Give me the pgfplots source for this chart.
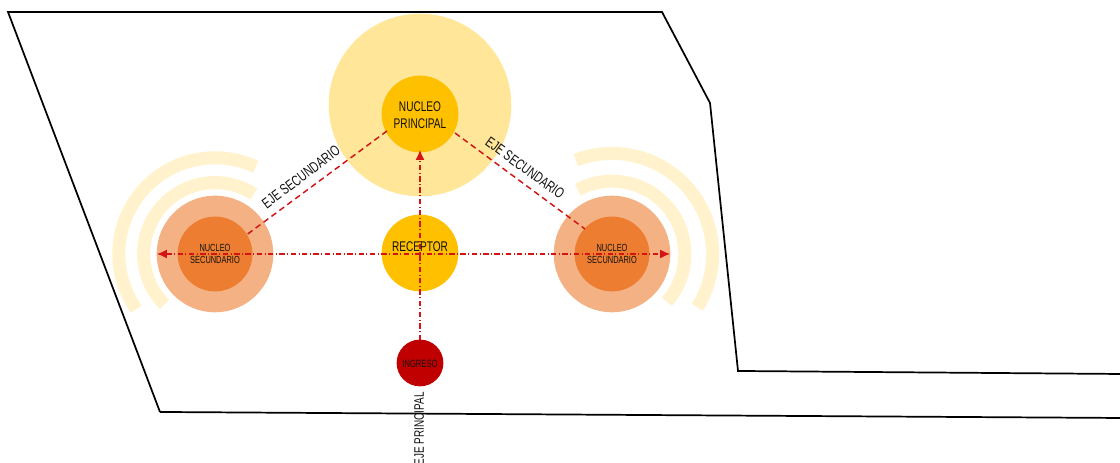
\documentclass[border=0pt]{standalone}
\usepackage{pgfplots}
\pgfplotsset{compat=1.18}
\usetikzlibrary{arrows.meta}
\usepackage{fontspec}
\setmainfont{Liberation Sans}
\newfontfamily\narrow[FakeStretch=0.72]{Liberation Sans}

\definecolor{halo}{HTML}{FFE699}
\definecolor{core}{HTML}{FFC000}
\definecolor{secout}{HTML}{F4B183}
\definecolor{secin}{HTML}{ED7D31}
\definecolor{ingreso}{HTML}{C00000}
\definecolor{cream}{HTML}{FFF2CC}
\definecolor{axred}{RGB}{210,20,20}
\definecolor{txt}{HTML}{111111}

% concentric arcs around the secondary nuclei (radii in pt, 1px = 0.405pt)
\pgfdeclareplotmark{ringsL}{%
  \pgfsetlinewidth{5.3pt}%
  \pgfpathmoveto{\pgfpointpolar{65}{39.1pt}}\pgfpatharc{65}{215}{39.1pt}%
  \pgfpathmoveto{\pgfpointpolar{57}{29.0pt}}\pgfpatharc{57}{225}{29.0pt}%
  \pgfusepathqstroke}
\pgfdeclareplotmark{ringsR}{%
  \pgfsetlinewidth{5.3pt}%
  \pgfpathmoveto{\pgfpointpolar{-32}{40.9pt}}\pgfpatharc{-32}{111}{40.9pt}%
  \pgfpathmoveto{\pgfpointpolar{-41}{29.6pt}}\pgfpatharc{-41}{118}{29.6pt}%
  \pgfusepathqstroke}

\begin{document}
\begin{tikzpicture}
\begin{axis}[
    set layers,
    scale only axis,
    width=16cm, height=6.614cm,
    xmin=0, xmax=1120, ymin=0, ymax=463,
    y dir=reverse,
    hide axis,
    clip=false
]
  % site outline
  \addplot[black, line width=0.7pt, on layer=axis background] coordinates {(160,412) (8,12) (662,12) (710,103) (738,371) (1120,374)};
  \addplot[black, line width=0.7pt, on layer=axis background] coordinates {(160,412) (1120,418)};

  % rings
  \addplot[only marks, mark=ringsL, cream, on layer=pre main] coordinates {(215,254)};
  \addplot[only marks, mark=ringsR, cream, on layer=pre main] coordinates {(612,254)};

  % circles (mark size = radius)
  \addplot[only marks, mark=*, mark size=36.9pt, halo] coordinates {(420,105)};
  \addplot[only marks, mark=*, mark size=15.4pt, core] coordinates {(420,114) (420,253)};
  \addplot[only marks, mark=*, mark size=23.5pt, secout] coordinates {(215,254) (612,254)};
  \addplot[only marks, mark=*, mark size=15.0pt, secin] coordinates {(215,254) (612,254)};
  \addplot[only marks, mark=*, mark size=9.3pt, ingreso] coordinates {(420,363)};

  % axes (dashed)
  \addplot[axred, line width=0.6pt, dash pattern=on 2.4pt off 1.6pt, on layer=axis foreground] coordinates {(387,131) (245,236)};
  \addplot[axred, line width=0.6pt, dash pattern=on 2.4pt off 1.6pt, on layer=axis foreground] coordinates {(455,133) (585,229)};
  \addplot[axred, line width=0.5pt, dash pattern=on 2.2pt off 1pt on 0.4pt off 1pt, on layer=axis foreground,
           {Latex[length=4pt,width=3.6pt]}-{Latex[length=4pt,width=3.6pt]}] coordinates {(157,254) (670,254)};
  \addplot[axred, line width=0.5pt, dash pattern=on 2.2pt off 1pt on 0.4pt off 1pt, on layer=axis foreground,
           -{Latex[length=4pt,width=3.6pt]}] coordinates {(420,340) (420,150)};

  % labels
  \begin{pgfonlayer}{axis foreground}
  \node[txt, align=center, font=\narrow\fontsize{5.7}{6.9}\selectfont] at (axis cs:420,115) {NUCLEO\\PRINCIPAL};
  \node[txt, font=\narrow\fontsize{5.7}{6.9}\selectfont] at (axis cs:420,247) {RECEPTOR};
  \node[txt, align=center, font=\narrow\fontsize{4.2}{4.9}\selectfont] at (axis cs:215,254) {NUCLEO\\SECUNDARIO};
  \node[txt, align=center, font=\narrow\fontsize{4.2}{4.9}\selectfont] at (axis cs:612,254) {NUCLEO\\SECUNDARIO};
  \node[txt, font=\narrow\fontsize{4.3}{5}\selectfont] at (axis cs:420,364) {INGRESO};
  \node[txt, rotate=37, font=\narrow\fontsize{6}{7}\selectfont] at (axis cs:301,177) {EJE SECUNDARIO};
  \node[txt, rotate=-36, font=\narrow\fontsize{6}{7}\selectfont] at (axis cs:525,168) {EJE SECUNDARIO};
  \node[txt, rotate=90, anchor=east, inner sep=0pt, font=\narrow\fontsize{5.6}{7}\selectfont] at (axis cs:419,392) {EJE PRINCIPAL};
  \end{pgfonlayer}
\end{axis}
\pgfresetboundingbox
\useasboundingbox (current axis.south west) rectangle (current axis.north east);
\end{tikzpicture}
\end{document}
